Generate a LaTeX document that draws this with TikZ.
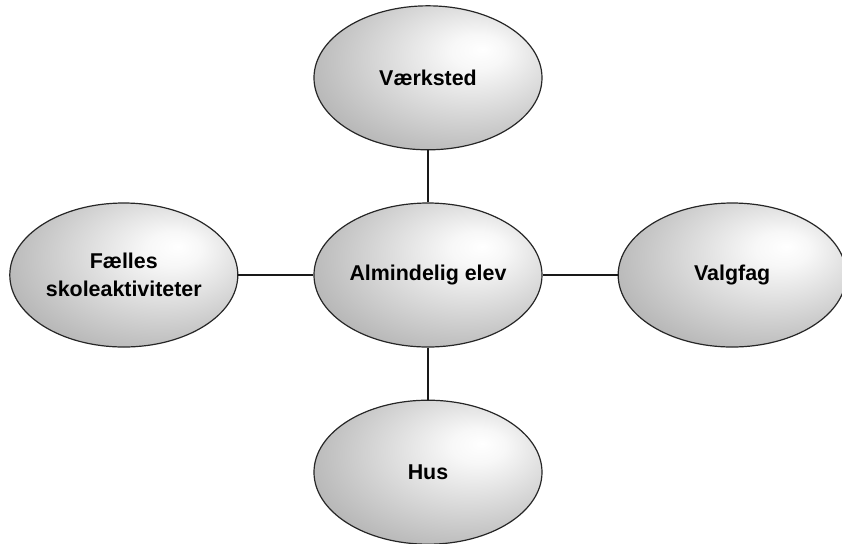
\documentclass[tikz,border=0pt]{standalone}
\usepackage{fontspec}
\setmainfont{Liberation Sans}
\usepackage{tikz}
\usetikzlibrary{matrix,shapes.geometric}

\pgfdeclareradialshading{eggshade}{\pgfpoint{12bp}{10bp}}{%
  color(0bp)=(white); color(6bp)=(white!97!black);
  color(45bp)=(gray!78); color(70bp)=(gray!68)}

\tikzset{
  egg/.style={ellipse, draw=black!85, line width=0.6pt, shading=eggshade,
    minimum width=114pt, minimum height=72pt, inner sep=0pt, align=center,
    font=\bfseries\fontsize{10.7}{14}\selectfont},
  link/.style={draw=black!90, line width=0.6pt}
}

\begin{document}
\begin{tikzpicture}[x=0.5pt,y=-0.5pt]
  \useasboundingbox (0,0) rectangle (842,543);
  \matrix (m) at (428,275) [row sep=26pt, column sep=37.5pt]
  {
     & \node[egg] (vaerk) {V\ae rksted}; & \\
    \node[egg] (faelles) {F\ae lles\\skoleaktiviteter}; & \node[egg] (elev) {Almindelig elev}; & \node[egg] (valg) {Valgfag}; \\
     & \node[egg] (hus) {Hus}; & \\
  };
  \path[link]
  (elev) edge (vaerk)
  (elev) edge (hus)
  (elev) edge (faelles)
  (elev) edge (valg)
  ;
\end{tikzpicture}
\end{document}
